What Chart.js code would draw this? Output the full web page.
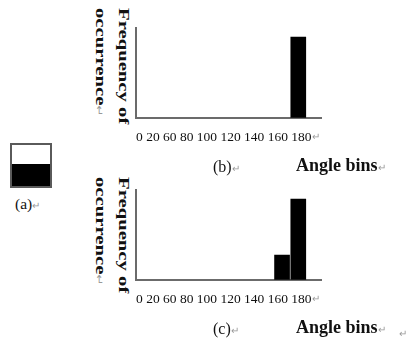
<!DOCTYPE html>
<html>
<head>
<meta charset="utf-8">
<script src="https://cdn.jsdelivr.net/npm/chart.js@4/dist/chart.umd.min.js"></script>
<style>
  body { margin: 0; width: 411px; height: 345px; position: relative; background: #fff; overflow: hidden;
         font-family: "Liberation Serif", serif; color: #111; }
  .abs { position: absolute; white-space: nowrap; }
  .ret { color: #999; font-size: 10px; font-weight: normal; }
  .box { position: absolute; left: 10px; top: 143px; width: 38px; height: 41px; border: 2px solid #5a5a5a;
         background: linear-gradient(#fff 0, #fff 19px, #000 19px, #000 100%); }
  .ytitle { position: absolute; transform-origin: 0 0; transform: rotate(90deg) scaleX(1.38);
            font-weight: bold; font-size: 15px; line-height: 23px; white-space: nowrap; }
  .cap { font-size: 16px; line-height: 20px; }
  .bins { font-size: 18px; font-weight: bold; line-height: 20px; }
  .wrap { position: absolute; left: 120px; width: 210px; height: 130px; }
</style>
</head>
<body>
<div class="box"></div>
<div class="abs cap" style="left:15px; top:194px; font-size:15.5px;">(a)<span class="ret">↵</span></div>

<div class="ytitle" style="left:135px; top:8px;">Frequency of<br>occurrence<span class="ret">↵</span></div>
<div class="wrap" style="top:18px;"><canvas id="chartB" width="210" height="130"></canvas></div>
<div class="abs ret" style="left:312px; top:131px;">↵</div>
<div class="abs cap" style="left:213px; top:157px;">(b)<span class="ret">↵</span></div>
<div class="abs bins" style="left:296px; top:155px;">Angle bins<span class="ret">↵</span></div>

<div class="ytitle" style="left:135px; top:177px;">Frequency of<br>occurrence<span class="ret">↵</span></div>
<div class="wrap" style="top:180px;"><canvas id="chartC" width="210" height="130"></canvas></div>
<div class="abs ret" style="left:312px; top:293px;">↵</div>
<div class="abs cap" style="left:213px; top:319px;">(c)<span class="ret">↵</span></div>
<div class="abs bins" style="left:296px; top:317px;">Angle bins<span class="ret">↵</span></div>
<div class="abs ret" style="left:399px; top:328px;">↵</div>

<script>
// tick labels as printed under both axes
const binLabels = ['0', '20', '60', '80', '100', '120', '140', '160', '180'];

// panel (b)
const anglesB = [180];
const countsB = [9];

// panel (c)
const anglesC = [160, 180];
const countsC = [2.75, 9];

const axisLine = { display: true, color: '#6b6b6b', width: 2 };

function makeChart(id, angles, counts) {
    const ctx = document.getElementById(id).getContext('2d');
    return new Chart(ctx, {
        type: 'bar',
        data: {
            datasets: [{
                data: angles.map((a, i) => ({ x: a, y: counts[i] })),
                backgroundColor: '#000',
                borderWidth: 0,
                barThickness: 15
            }]
        },
        options: {
            responsive: false,
            animation: false,
            layout: { padding: { left: 16, right: 9, top: 10, bottom: 0 } },
            plugins: { legend: { display: false }, tooltip: { enabled: false } },
            scales: {
                x: {
                    type: 'linear',
                    min: -20,
                    max: 208,
                    offset: false,
                    grid: { display: false, drawTicks: false },
                    border: axisLine,
                    ticks: { display: false },
                    title: {
                        display: true,
                        text: binLabels.join(' '),
                        align: 'start',
                        color: '#111',
                        font: { family: 'Liberation Serif', size: 13.5 },
                        padding: { top: 12, bottom: 2 }
                    }
                },
                y: {
                    min: 0,
                    max: 10,
                    grid: { display: false, drawTicks: false },
                    border: axisLine,
                    ticks: { display: false }
                }
            }
        }
    });
}

makeChart('chartB', anglesB, countsB);
makeChart('chartC', anglesC, countsC);
</script>
</body>
</html>
